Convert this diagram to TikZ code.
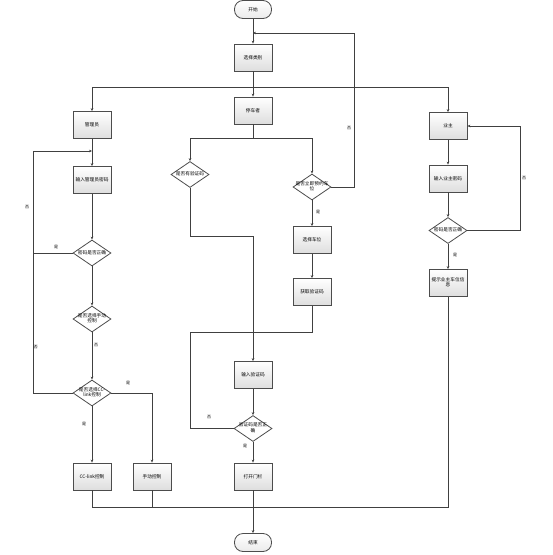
\documentclass[tikz,border=0pt]{standalone}
\usepackage{fontspec}
\newfontfamily\cjk{Noto Sans CJK SC}
\usetikzlibrary{calc}
\usetikzlibrary{positioning}
\usetikzlibrary{arrows.meta}
\usetikzlibrary{shapes.geometric}

\newcommand{\dtext}[1]{\makebox[0pt]{\begin{tabular}{@{}c@{}}#1\end{tabular}}}

\tikzset{
  flowfont/.style={font=\cjk\fontsize{4.7}{5.6}\selectfont},
  stepbox/.style={flowfont, draw=black!70, line width=0.8pt,
    top color=white, bottom color=black!13,
    minimum width=38pt, minimum height=27pt, inner sep=0.5pt, align=center},
  decision/.style={flowfont, diamond, draw=black!70, line width=0.8pt,
    fill=white, minimum width=38pt, minimum height=26pt, inner sep=0pt},
  terminal/.style={flowfont, draw=black!70, line width=0.8pt,
    top color=white, bottom color=black!8, rounded corners=8.5pt,
    minimum width=37pt, minimum height=18pt},
  branch/.style={font=\cjk\fontsize{4}{4.5}\selectfont, inner sep=0pt},
  flow/.style={draw=black!75, line width=0.7pt}
}

\begin{document}
\begin{tikzpicture}[%
  >={Stealth[length=3pt,width=2.6pt]},
  x=1pt, y=-1pt
]

  \useasboundingbox (0,0) rectangle (553,555);

  % main column
  \node[terminal] (start) at (253,9.5) {开始};
  \node[stepbox] (choose) at (253,57.5) {选择类别};
  \node[stepbox] (parker) at (253,110.5) {停车者};
  \node[stepbox] (admin) at (92,125) {管理员};
  \node[stepbox] (owner) at (448,126) {业主};

  % administrator
  \node[stepbox] (adminpwd) at (92,180) {输入管理员密码};
  \node[decision] (admincheck) at (92,253) {\dtext{密码是否正确}};
  \node[decision] (manualq) at (92,319) {\dtext{是否选择手动\\控制}};
  \node[decision] (cclinkq) at (92,393) {\dtext{是否选择CC-\\link控制}};
  \node[stepbox] (cclink) at (92,476.5) {CC-link控制};
  \node[stepbox] (manual) at (152,476.5) {手动控制};

  % parker
  \node[decision] (hascode) at (190,174.5) {\dtext{是否有验证码}};
  \node[decision] (reserveq) at (312,187) {\dtext{是否立即预约车\\位}};
  \node[stepbox] (choosespot) at (312,240) {选择车位};
  \node[stepbox] (getcode) at (312,292) {获取验证码};
  \node[stepbox] (inputcode) at (253,375) {输入验证码};
  \node[decision] (codecheck) at (253,428.5) {\dtext{验证码是否正\\确}};
  \node[stepbox] (opengate) at (253,476.5) {打开门栏};
  \node[terminal] (finish) at (253,542.5) {结束};

  % owner
  \node[stepbox] (ownerpwd) at (448,178.5) {输入业主密码};
  \node[decision] (ownercheck) at (448,230.5) {\dtext{密码是否正确}};
  \node[stepbox] (ownerinfo) at (448,283) {\dtext{提示业主车位信\\息}};

  \coordinate (loopT) at (253,33);
  \coordinate (loopR) at (354,33);
  \coordinate (split) at (253,87);
  \coordinate (split2) at (253,138);
  \coordinate (loopL) at (33,151);
  \coordinate (loopJ) at (92,151);
  \coordinate (codejoin) at (253,236);
  \coordinate (codeturn) at (190,332);
  \coordinate (loopO) at (520,126);
  \coordinate (joinR) at (448,507);

  \draw[flow,->] (start) -- (choose);
  \draw[flow,->] (choose) -- (parker);
  \draw[flow,->] (split) -| (admin);
  \draw[flow,->] (split) -| (owner);

  \draw[flow,->] (admin) -- (adminpwd);
  \draw[flow,->] (adminpwd) -- (admincheck);
  \draw[flow,->] (admincheck) -- (manualq);
  \draw[flow,->] (manualq) -- (cclinkq);
  \draw[flow,->] (cclinkq) -- (cclink);
  \draw[flow,->] (cclinkq.east) -| (manual);
  \draw[flow,->] (cclinkq.west) -| (loopL) -- (loopJ);
  \draw[flow] (admincheck.west) -- (admincheck.west -| loopL);

  \draw[flow] (parker) -- (split2);
  \draw[flow,->] (split2) -| (hascode);
  \draw[flow,->] (split2) -| (reserveq);
  \draw[flow,->] (hascode) |- (codejoin) -- (inputcode);
  \draw[flow,->] (reserveq) -- (choosespot);
  \draw[flow,->] (choosespot) -- (getcode);
  \draw[flow,->] (reserveq.east) -| (loopR) -- (loopT);
  \draw[flow] (getcode) |- (codeturn) |- (codecheck.west);
  \draw[flow,->] (inputcode) -- (codecheck);
  \draw[flow,->] (codecheck) -- (opengate);
  \draw[flow,->] (opengate) -- (finish);

  \draw[flow,->] (owner) -- (ownerpwd);
  \draw[flow,->] (ownerpwd) -- (ownercheck);
  \draw[flow,->] (ownercheck) -- (ownerinfo);
  \draw[flow,->] (ownercheck.east) -| (loopO) -- (owner.east);

  \draw[flow] (cclink) |- (joinR) -- (ownerinfo);
  \draw[flow] (manual) -- (manual |- joinR);

  % branch labels
  \node[branch] (no1) at (349,128) {否};
  \node[branch] (no2) at (27,207) {否};
  \node[branch] (yes1) at (56,247) {是};
  \node[branch] (no3) at (36,347) {否};
  \node[branch] (no4) at (96,345) {否};
  \node[branch] (yes2) at (128,383) {是};
  \node[branch] (yes3) at (84,424) {是};
  \node[branch] (no5) at (209,417) {否};
  \node[branch] (yes4) at (245,446) {是};
  \node[branch] (yes5) at (318,212) {是};
  \node[branch] (no6) at (524,178) {否};
  \node[branch] (yes6) at (455,255) {是};

\end{tikzpicture}
\end{document}
